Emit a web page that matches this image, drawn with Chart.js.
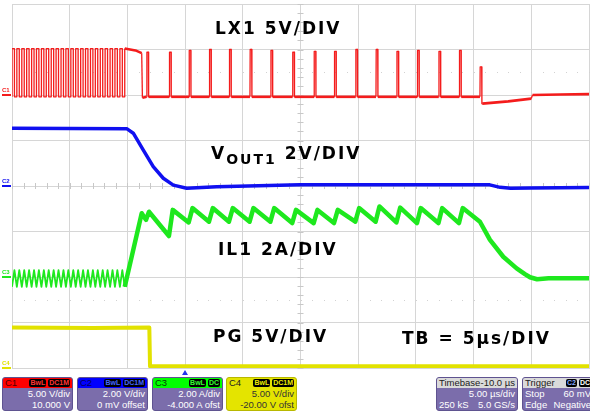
<!DOCTYPE html>
<html>
<head>
<meta charset="utf-8">
<script src="https://cdn.jsdelivr.net/npm/chart.js@4.4.1/dist/chart.umd.min.js"></script>
<style>
  body { margin: 0; background: #fff; }
  #wrap { position: relative; width: 590px; height: 412px; overflow: hidden; background: #fff;
          font-family: "Liberation Sans", Arial, sans-serif; }
  #plot { position: absolute; left: 0; top: 0; }
  .lbl { position: absolute; font-family: "DejaVu Sans", sans-serif; font-weight: bold; font-size: 17px;
         line-height: 17px; letter-spacing: 2px; color: #000; white-space: nowrap; }
  .lbl sub { font-size: 14px; letter-spacing: 2px; vertical-align: -5px; line-height: 0; }
  .mk { position: absolute; font-size: 6px; line-height: 6px; font-weight: bold; }
  .dash { position: absolute; height: 2px; width: 9px; left: 2px; }
  .box { position: absolute; top: 377px; height: 34px; width: 71px; background: #7b6dab; border-radius: 3px;
         color: #fff; font-size: 9.5px; overflow: hidden; box-sizing: border-box; border: 1px solid #5f5390; }
  .hd { height: 10px; line-height: 10px; display: flex; align-items: center; padding: 0 2px; font-size: 9.5px; }
  .hd .nm { flex: 1; }
  .bd { background: #000; border-radius: 2px; font-size: 7px; line-height: 8px; padding: 0 1px; margin-left: 2px; font-weight: bold; }
  .row { height: 11px; line-height: 11px; display: flex; justify-content: space-between; padding: 0 2px; white-space: nowrap; }
  .row.r { justify-content: flex-end; }
  .gray { background: #dadada; color: #222; }
  #trig { position: absolute; top: 370px; width: 0; height: 0; border-left: 3px solid transparent;
          border-right: 3px solid transparent; border-bottom: 5px solid #2233ee; }
</style>
</head>
<body>
<div id="wrap">
  <canvas id="plot" width="590" height="372"></canvas>

  <div class="lbl" style="left:215px;top:20px">LX1 5V/DIV</div>
  <div class="lbl" style="left:211px;top:145px">V<sub>OUT1</sub> 2V/DIV</div>
  <div class="lbl" style="left:218px;top:241px">IL1 2A/DIV</div>
  <div class="lbl" style="left:213px;top:328px">PG 5V/DIV</div>
  <div class="lbl" style="left:402px;top:330px">TB = 5µs/DIV</div>

  <div class="box" style="left:2px">
    <div class="hd" style="background:#f00;color:#500000"><span class="nm">C1</span><span class="bd" style="color:#f33">BwL</span><span class="bd" style="color:#f33">DC1M</span></div>
    <div class="row r"><span>5.00 V/div</span></div>
    <div class="row r"><span>10.000 V</span></div>
  </div>
  <div class="box" style="left:77px">
    <div class="hd" style="background:#00f;color:#000060"><span class="nm">C2</span><span class="bd" style="color:#46f">BwL</span><span class="bd" style="color:#46f">DC1M</span></div>
    <div class="row r"><span>2.00 V/div</span></div>
    <div class="row r"><span>0 mV offset</span></div>
  </div>
  <div class="box" style="left:152px">
    <div class="hd" style="background:#0f0;color:#004000"><span class="nm">C3</span><span class="bd" style="color:#3f3">BwL</span><span class="bd" style="color:#3f3">DC</span></div>
    <div class="row r"><span>2.00 A/div</span></div>
    <div class="row r"><span>-4.000 A ofst</span></div>
  </div>
  <div class="box" style="left:226px;background:#e4e400;color:#333;border-color:#b8b800">
    <div class="hd" style="color:#222"><span class="nm">C4</span><span class="bd" style="color:#ee0">BwL</span><span class="bd" style="color:#ee0">DC1M</span></div>
    <div class="row r"><span>5.00 V/div</span></div>
    <div class="row r"><span>-20.00 V ofst</span></div>
  </div>
  <div class="box" style="left:436px;width:82px">
    <div class="hd gray"><span class="nm">Timebase</span><span>-10.0 µs</span></div>
    <div class="row r"><span>5.00 µs/div</span></div>
    <div class="row"><span>250 kS</span><span>5.0 GS/s</span></div>
  </div>
  <div class="box" style="left:522px;width:72px">
    <div class="hd gray"><span class="nm">Trigger</span><span class="bd" style="color:#8af">C2</span><span class="bd" style="color:#fff">DC</span></div>
    <div class="row"><span>Stop</span><span>60 mV</span></div>
    <div class="row"><span>Edge</span><span>Negative</span></div>
  </div>
  <div id="trig"></div>
</div>

<script>
// time axis in µs (5 µs/div, 10 div), vertical axis in divisions
const timeMin = -15;
const timeMax = 35;
const chNames = ["C1", "C2", "C3", "C4"];
const chColors = ["#f41c1c", "#1010f0", "#1ee81e", "#e2e200"];
const chScale = [5, 2, 2, 5];      // units / div
const chOffset = [10, 0, -4, -20]; // offset as shown on the channel boxes

// LX1 (V) - forced PWM switching, then pulse skipping
const lx1High = 5.1;
const lx1Low = -0.2;
const lx1Rise = [-15.00, -14.58, -14.15, -13.73, -13.30, -12.88, -12.45, -12.03, -11.60, -11.18, -10.75, -10.33,
  -9.90, -9.48, -9.05, -8.63, -8.20, -7.78, -7.35, -6.93, -6.50, -6.08, -5.65, -5.23];
const lx1Fall = [-14.79, -14.37, -13.94, -13.52, -13.09, -12.67, -12.24, -11.82, -11.39, -10.97, -10.54, -10.12,
  -9.69, -9.27, -8.84, -8.42, -7.99, -7.57, -7.14, -6.72, -6.29, -5.87, -5.44];
const lx1HoldT = [-4.30, -3.76, -3.70];
const lx1HoldV = [4.9, 4.6, -0.3];
const lx1SpikeT = [-3.33, -1.37, 0.34, 2.10, 3.83, 5.62, 7.42, 9.31, 11.17, 12.93, 14.78, 16.54, 18.34, 20.12, 21.98, 23.76, 25.55];
const lx1SpikeV = [4.7, 4.7, 4.9, 5.0, 5.0, 5.0, 4.9, 4.7, 4.8, 4.8, 5.0, 5.0, 4.8, 4.9, 4.8, 4.9, 3.1];
const lx1SpikeW = 0.17;
const lx1TailT = [25.75, 28.0, 30.0, 30.1, 32.5, 35.1];
const lx1TailV = [-0.95, -0.7, -0.4, 0.0, 0.05, 0.1];

// VOUT1 (V)
const voutT = [-15, -5.06, -4.49, -3.62, -2.76, -1.89, -1.02, 0.14, 2.74, 9.96, 26.4, 27.3, 28.2, 29.9, 35.1];
const voutV = [2.54, 2.52, 2.32, 1.58, 0.85, 0.34, 0.04, -0.10, -0.03, 0.05, 0.05, -0.06, -0.10, -0.09, -0.06];

// IL1 (A) - ripple during PWM (valleys at LX rise, peaks at LX fall), then sawtooth
const il1RipLo = -0.43;
const il1RipHi = 0.30;
const il1T = [-3.76, -3.39, -3.13, -1.40, -1.07, 0.31, 0.64, 2.07, 2.40, 3.80, 4.13, 5.59, 5.92, 7.39, 7.72,
  9.28, 9.61, 11.14, 11.47, 12.90, 13.23, 14.75, 15.08, 16.51, 16.84, 18.31, 18.64, 20.09, 20.42, 21.95, 22.28,
  23.73, 24.06, 25.55, 26.42, 27.57, 28.73, 29.45, 29.89, 30.5, 31.5, 35.1];
const il1V = [2.80, 2.51, 2.87, 1.80, 2.95, 2.40, 3.03, 2.43, 3.03, 2.43, 3.03, 2.43, 3.03, 2.43, 3.03,
  2.37, 2.95, 2.37, 2.95, 2.37, 2.95, 2.43, 3.03, 2.43, 3.10, 2.40, 3.05, 2.37, 3.03, 2.37, 3.03,
  2.37, 3.03, 2.43, 1.63, 0.89, 0.38, 0.13, -0.01, -0.10, -0.06, -0.06];

// PG (V)
const pgT = [-15, -8, -3.10, -3.04, 0, 10, 20, 35.1];
const pgV = [4.45, 4.40, 4.45, 0.2, 0.2, 0.2, 0.2, 0.2];

const toDiv = (ch, v) => (v + chOffset[ch]) / chScale[ch];
const pts = (ch, ts, vs) => ts.map((t, i) => ({ x: t, y: toDiv(ch, vs[i]) }));

const buildLx1 = () => {
  const out = [];
  lx1Rise.forEach((t, i) => {
    out.push({ x: t, y: lx1Low }, { x: t, y: lx1High });
    if (i < lx1Fall.length) out.push({ x: lx1Fall[i], y: lx1High }, { x: lx1Fall[i], y: lx1Low });
  });
  lx1HoldT.forEach((t, i) => out.push({ x: t, y: lx1HoldV[i] }));
  lx1SpikeT.forEach((t, i) => {
    const after = i === lx1SpikeT.length - 1 ? lx1TailV[0] : lx1Low;
    out.push({ x: t, y: lx1Low }, { x: t + 0.02, y: lx1SpikeV[i] },
      { x: t + lx1SpikeW - 0.02, y: lx1SpikeV[i] }, { x: t + lx1SpikeW, y: after });
  });
  lx1TailT.forEach((t, i) => out.push({ x: t, y: lx1TailV[i] }));
  return out.map((p) => ({ x: p.x, y: toDiv(0, p.y) }));
};

const buildIl1 = () => {
  const out = [];
  lx1Rise.forEach((t, i) => {
    out.push({ x: t, y: il1RipLo });
    if (i < lx1Fall.length) out.push({ x: lx1Fall[i], y: il1RipHi });
  });
  il1T.forEach((t, i) => out.push({ x: t, y: il1V[i] }));
  return out.map((p) => ({ x: p.x, y: toDiv(2, p.y) }));
};

const pwmEnd = lx1Rise[lx1Rise.length - 1];

const scopeMarks = {
  id: "scopeMarks",
  beforeDatasetsDraw(chart) {
    const { ctx, scales: { x, y } } = chart;
    ctx.save();
    ctx.fillStyle = "#c8c8c8";
    const cx = x.getPixelForValue(10);
    const cy = y.getPixelForValue(0);
    for (let t = timeMin; t <= timeMax; t += 1) {
      ctx.fillRect(Math.round(x.getPixelForValue(t)), cy - 3, 1, 6);
    }
    for (let d = -20; d <= 20; d++) {
      ctx.fillRect(cx - 3, Math.round(y.getPixelForValue(d / 5)), 6, 1);
    }
    ctx.fillStyle = "#d2d2d2";
    for (let t = timeMin; t <= timeMax; t += 1) {
      [2.5, -2.5].forEach((d) => ctx.fillRect(Math.round(x.getPixelForValue(t)), Math.round(y.getPixelForValue(d)), 1, 1));
    }
    ctx.restore();
  },
};

const chart = new Chart(document.getElementById("plot"), {
  type: "line",
  data: {
    datasets: [
      {
        data: buildLx1(),
        borderColor: chColors[0],
        borderWidth: 2.4,
        segment: {
          borderWidth: (c) => (c.p1.parsed.x <= pwmEnd + 0.01 || c.p1.parsed.x - c.p0.parsed.x < 0.2 ? 1.3 : 2.6),
        },
      },
      { data: pts(1, voutT, voutV), borderColor: chColors[1], borderWidth: 3.5 },
      {
        data: buildIl1(),
        borderColor: chColors[2],
        borderWidth: 4.5,
        segment: { borderWidth: (c) => (c.p1.parsed.x <= pwmEnd + 0.01 ? 1.8 : 4.5) },
      },
      { data: pts(3, pgT, pgV), borderColor: chColors[3], borderWidth: 4 },
    ],
  },
  options: {
    responsive: false,
    animation: false,
    layout: { padding: { left: 12, top: 4, right: 1, bottom: 4 } },
    elements: { point: { radius: 0 }, line: { tension: 0, borderJoinStyle: "round" } },
    plugins: { legend: { display: false }, tooltip: { enabled: false } },
    scales: {
      x: {
        type: "linear", min: timeMin, max: timeMax,
        ticks: { display: false, stepSize: 5 },
        grid: { color: "#d6d6d6", drawTicks: false },
        border: { color: "#d6d6d6" },
      },
      y: {
        min: -4, max: 4,
        ticks: { display: false, stepSize: 1 },
        grid: { color: "#d6d6d6", drawTicks: false },
        border: { color: "#d6d6d6" },
      },
    },
  },
  plugins: [scopeMarks],
});

// channel ground markers and trigger arrow, placed from the chart's scales
const wrap = document.getElementById("wrap");
chNames.forEach((name, i) => {
  const py = chart.scales.y.getPixelForValue(chOffset[i] / chScale[i]);
  const m = document.createElement("div");
  m.className = "mk";
  m.style.color = chColors[i];
  m.style.left = "2px";
  m.style.top = (py - 8) + "px";
  m.textContent = name;
  wrap.appendChild(m);
  const d = document.createElement("div");
  d.className = "dash";
  d.style.background = chColors[i];
  d.style.top = (py - 1) + "px";
  wrap.appendChild(d);
});
document.getElementById("trig").style.left = (chart.scales.x.getPixelForValue(0) - 3) + "px";
</script>
</body>
</html>
